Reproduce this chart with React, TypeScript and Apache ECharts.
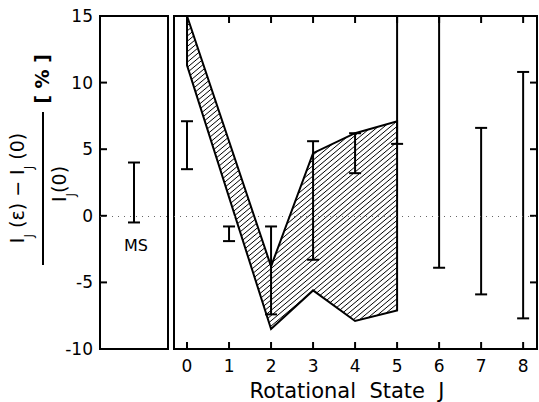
import React, { useEffect, useRef } from "react";
import * as echarts from "echarts";

// Rotational states and error bars (low / high, in %); 16 = beyond the top of the frame
const J_STATES = [0, 1, 2, 3, 4, 5, 6, 7, 8];
const ERR_LOW = [3.5, -1.9, -7.4, -3.3, 3.2, 5.4, -3.9, -5.9, -7.7];
const ERR_HIGH = [7.1, -0.8, -0.8, 5.6, 6.2, 16, 16, 6.6, 10.8];

// MS reference measurement
const MS_X = [0.5];
const MS_LOW = [-0.5];
const MS_HIGH = [4.0];

// Hatched band (calculated range)
const BAND_J = [0, 2, 3, 4, 5];
const BAND_UPPER = [15, -3.8, 4.7, 6.2, 7.1];
const BAND_LOWER = [11.3, -8.5, -5.6, -7.9, -7.1];

const X_TICKS = [0, 1, 2, 3, 4, 5, 6, 7, 8];
const Y_INNER_TICKS = [-5, 0, 5, 10];
const Y_MIN = -10;
const Y_MAX = 15;
const X_MIN = -0.31;
const X_MAX = 8.33;

const FONT = "DejaVu Sans";
const TICK_LEN = 7;

function errorBarItem(params: any, api: any) {
  const j = api.value(0);
  const lo = api.value(1);
  const hi = api.value(2);
  const a = api.coord([j, lo]);
  const b = api.coord([j, hi]);
  const w = 6;
  const st = { stroke: "#000", lineWidth: 2 };
  return {
    type: "group",
    children: [
      { type: "line", shape: { x1: a[0], y1: a[1], x2: b[0], y2: b[1] }, style: st },
      { type: "line", shape: { x1: a[0] - w, y1: a[1], x2: a[0] + w, y2: a[1] }, style: st },
      { type: "line", shape: { x1: b[0] - w, y1: b[1], x2: b[0] + w, y2: b[1] }, style: st },
    ],
  };
}

function bandItem(params: any, api: any) {
  const pts: number[][] = [];
  BAND_J.forEach((j, i) => pts.push(api.coord([j, BAND_UPPER[i]])));
  for (let i = BAND_J.length - 1; i >= 0; i--) pts.push(api.coord([BAND_J[i], BAND_LOWER[i]]));
  const ang = (40 * Math.PI) / 180;
  const dx = Math.cos(ang), dy = -Math.sin(ang);
  const nx = Math.sin(ang), ny = Math.cos(ang);
  const cs = pts.map((p) => p[0] * nx + p[1] * ny);
  const cmin = Math.min(...cs), cmax = Math.max(...cs);
  const step = 4;
  const children: any[] = [];
  for (let c = Math.ceil(cmin / step) * step; c < cmax; c += step) {
    const hits: number[][] = [];
    for (let k = 0; k < pts.length; k++) {
      const k2 = (k + 1) % pts.length;
      const p1 = pts[k], p2 = pts[k2];
      const c1 = cs[k], c2 = cs[k2];
      if ((c1 <= c && c < c2) || (c2 <= c && c < c1)) {
        const t = (c - c1) / (c2 - c1);
        const x = p1[0] + t * (p2[0] - p1[0]);
        const y = p1[1] + t * (p2[1] - p1[1]);
        hits.push([x, y, x * dx + y * dy]);
      }
    }
    hits.sort((a, b) => a[2] - b[2]);
    for (let h = 0; h + 1 < hits.length; h += 2) {
      children.push({
        type: "line",
        shape: { x1: hits[h][0], y1: hits[h][1], x2: hits[h + 1][0], y2: hits[h + 1][1] },
        style: { stroke: "#000", lineWidth: 1 },
      });
    }
  }
  children.push({
    type: "polygon",
    shape: { points: pts },
    style: { fill: "none", stroke: "#000", lineWidth: 2, lineJoin: "miter" },
  });
  return { type: "group", children };
}

export default function App() {
  const ref = useRef<HTMLDivElement>(null);
  useEffect(() => {
    if (!ref.current) return;
    const chart = echarts.init(ref.current, null, { renderer: "svg" });
    const rich = {
      i: { fontSize: 19, fontFamily: FONT, lineHeight: 19, verticalAlign: "top", color: "#000" },
      s: { fontSize: 12, fontFamily: FONT, lineHeight: 27, verticalAlign: "bottom", color: "#000" },
      t: { fontSize: 19, fontFamily: FONT, lineHeight: 19, verticalAlign: "top", color: "#000" },
    };
    const hiddenAxis = { axisLine: { show: false, onZero: false }, axisTick: { show: false }, splitLine: { show: false } };
    const option: any = {
      animation: false,
      backgroundColor: "#fff",
      grid: [
        { left: 100, top: 16, width: 68, height: 333, show: true, borderColor: "#000", borderWidth: 2, backgroundColor: "rgba(0,0,0,0)" },
        { left: 174, top: 16, right: 2, height: 333, show: true, borderColor: "#000", borderWidth: 2, backgroundColor: "rgba(0,0,0,0)" },
      ],
      xAxis: [
        { type: "value", gridIndex: 0, min: 0, max: 1, ...hiddenAxis, axisLabel: { show: false } },
        {
          type: "value", gridIndex: 1, min: X_MIN, max: X_MAX, position: "bottom", ...hiddenAxis,
          axisLabel: { show: true, customValues: X_TICKS, fontSize: 17, fontFamily: FONT, color: "#000", margin: 8 },
        },
      ],
      yAxis: [
        {
          type: "value", gridIndex: 0, min: Y_MIN, max: Y_MAX, interval: 5, position: "left", ...hiddenAxis,
          axisLabel: { fontSize: 17, fontFamily: FONT, color: "#000", margin: 7 },
        },
        { type: "value", gridIndex: 1, min: Y_MIN, max: Y_MAX, interval: 5, ...hiddenAxis, axisLabel: { show: false } },
      ],
      series: [
        {
          type: "line", xAxisIndex: 0, yAxisIndex: 0, data: [], silent: true,
          markLine: { symbol: "none", silent: true, label: { show: false }, lineStyle: { type: [1, 5], color: "#666", width: 1 }, data: [{ yAxis: 0 }] },
        },
        {
          type: "line", xAxisIndex: 1, yAxisIndex: 1, data: [], silent: true,
          markLine: { symbol: "none", silent: true, label: { show: false }, lineStyle: { type: [1, 5], color: "#666", width: 1 }, data: [{ yAxis: 0 }] },
        },
        {
          type: "custom", xAxisIndex: 1, yAxisIndex: 1, clip: true, silent: true,
          renderItem: bandItem, data: [[0, 0]],
        },
        {
          type: "custom", xAxisIndex: 1, yAxisIndex: 1, clip: true, silent: true,
          renderItem: errorBarItem,
          data: J_STATES.map((j, i) => [j, ERR_LOW[i], ERR_HIGH[i]]),
        },
        {
          type: "custom", xAxisIndex: 0, yAxisIndex: 0, clip: true, silent: true,
          renderItem: errorBarItem,
          data: MS_X.map((x, i) => [x, MS_LOW[i], MS_HIGH[i]]),
        },
      ],
    };
    chart.setOption(option);

    // tick marks, placed through the chart's own scales
    const ticks: any[] = [];
    const tick = (x1: number, y1: number, x2: number, y2: number) =>
      ticks.push({ type: "line", shape: { x1, y1, x2, y2 }, style: { stroke: "#000", lineWidth: 2 } });
    X_TICKS.forEach((x) => {
      const b = chart.convertToPixel({ gridIndex: 1 }, [x, Y_MIN]) as number[];
      const t = chart.convertToPixel({ gridIndex: 1 }, [x, Y_MAX]) as number[];
      tick(b[0], b[1], b[0], b[1] - TICK_LEN);
      tick(t[0], t[1], t[0], t[1] + TICK_LEN);
    });
    Y_INNER_TICKS.forEach((y) => {
      const r = chart.convertToPixel({ gridIndex: 1 }, [X_MAX, y]) as number[];
      const l = chart.convertToPixel({ gridIndex: 0 }, [0, y]) as number[];
      tick(r[0], r[1], r[0] - TICK_LEN, r[1]);
      tick(l[0], l[1], l[0] + TICK_LEN, l[1]);
    });

    chart.setOption({
      graphic: [
        {
          type: "text", x: 136, y: 245, silent: true,
          style: { text: "MS", font: `16px '${FONT}'`, fill: "#000", align: "center", verticalAlign: "middle" },
        },
        {
          type: "text", x: 347, y: 391, silent: true,
          style: { text: "Rotational  State  J", font: `21px '${FONT}'`, fill: "#000", align: "center", verticalAlign: "middle" },
        },
        {
          type: "text", x: 21, y: 188, rotation: Math.PI / 2, silent: true,
          style: { text: "{i|I}{s|J}{t| (ε) − }{i|I}{s|J}{t| (0)}", rich, align: "center", verticalAlign: "middle" },
        },
        {
          type: "line", silent: true,
          shape: { x1: 43, y1: 112, x2: 43, y2: 265 },
          style: { stroke: "#000", lineWidth: 2 },
        },
        {
          type: "text", x: 63, y: 184, rotation: Math.PI / 2, silent: true,
          style: { text: "{i|I}{s|J}{t|(0)}", rich, align: "center", verticalAlign: "middle" },
        },
        {
          type: "text", x: 42, y: 79, rotation: Math.PI / 2, silent: true,
          style: { text: "[ % ]", font: `bold 19px '${FONT}'`, fill: "#000", align: "center", verticalAlign: "middle" },
        },
        ...ticks,
      ],
    });
    return () => chart.dispose();
  }, []);
  return <div ref={ref} style={{ position: "fixed", left: 0, top: 0, width: 539, height: 402 }} />;
}
